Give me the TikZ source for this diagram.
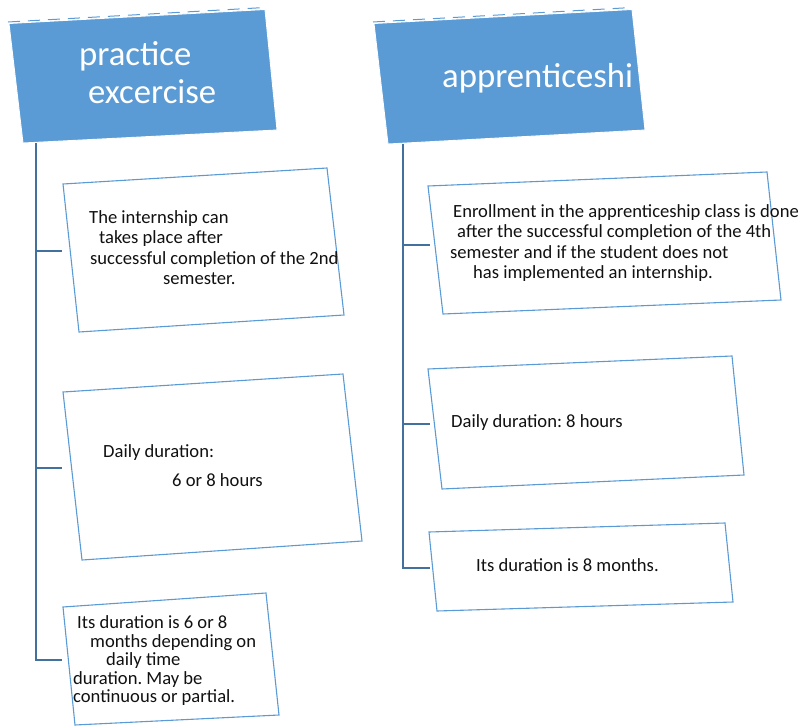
\documentclass[tikz,border=0pt]{standalone}
\usepackage{fontspec}
\setmainfont{Carlito}
\begin{document}
\frenchspacing
\begin{tikzpicture}[x=1pt,y=-1pt,
  headfill/.style={fill=hdblue,draw=white,line width=0.9pt},
  headedge/.style={draw=hdblue,line width=1pt,dash pattern=on 12pt off 8pt},
  infobox/.style={draw=boxblue,line width=1.1pt,fill=white},
  link/.style={draw=linkblue,line width=2pt},
  headtxt/.style={text=white,inner sep=0pt,anchor=base west,font=\fontsize{34.7}{38}\selectfont},
  bodytxt/.style={text=txtgray,inner sep=0pt,anchor=base west,font=\fontsize{18.6}{20.6}\selectfont}]
\definecolor{hdblue}{HTML}{5B9BD5}
\definecolor{boxblue}{HTML}{5B9BD5}
\definecolor{linkblue}{HTML}{41719C}
\definecolor{txtgray}{HTML}{111111}
\useasboundingbox (0,0) rectangle (804,726);

% ---------- left column: practice exercise ----------
\draw[headedge] (8,22) -- (265,7.5);
\draw[headfill] (9,23.5) -- (265,9.5) -- (277,130) -- (23,143) -- cycle;
\node[headtxt] (hl1) at (79,65) {practice};
\node[headtxt] (hl2) at (88,103) {excercise};

\coordinate (ltop) at (36,143);
\coordinate (lbot) at (36,661);
\coordinate (lj1) at (36,251);
\coordinate (le1) at (62,251);
\coordinate (lj2) at (36,468);
\coordinate (le2) at (62,468);
\coordinate (lj3) at (36,660);
\coordinate (le3) at (62,660);
\draw[link] (ltop) -- (lbot);
\draw[link] (lj1) -- (le1);
\draw[link] (lj2) -- (le2);
\draw[link] (lj3) -- (le3);

\draw[infobox] (63,184) -- (327,168) -- (344,315) -- (79,332) -- cycle;
\node[bodytxt] (a1) at (89,223) {The internship can};
\node[bodytxt] (a2) at (99,243) {takes place after};
\node[bodytxt] (a3) at (90,264) {successful completion of the 2nd};
\node[bodytxt] (a4) at (163,284) {semester.};

\draw[infobox] (63,392) -- (343,374) -- (362,541) -- (82,560) -- cycle;
\node[bodytxt] (b1) at (103,457) {Daily duration:};
\node[bodytxt] (b2) at (172,486) {6 or 8 hours};

\draw[infobox] (63,607) -- (266,593) -- (279,715) -- (75,725) -- cycle;
\node[bodytxt] (c1) at (77,628) {Its duration is 6 or 8};
\node[bodytxt] (c2) at (90,647) {months depending on};
\node[bodytxt] (c3) at (106,665) {daily time};
\node[bodytxt] (c4) at (73,684) {duration. May be};
\node[bodytxt] (c5) at (73,702) {continuous or partial.};

% ---------- right column: apprenticeship ----------
\draw[headedge] (373,22) -- (632,7.5);
\draw[headfill] (374,23.5) -- (632,9.5) -- (645,130) -- (388,144) -- cycle;
\node[headtxt] (hr1) at (442,87) {apprenticeshi};

\coordinate (rtop) at (403,144);
\coordinate (rbot) at (403,569);
\coordinate (rj1) at (403,245);
\coordinate (re1) at (430,245);
\coordinate (rj2) at (403,424);
\coordinate (re2) at (430,424);
\coordinate (rj3) at (403,568);
\coordinate (re3) at (430,568);
\draw[link] (rtop) -- (rbot);
\draw[link] (rj1) -- (re1);
\draw[link] (rj2) -- (re2);
\draw[link] (rj3) -- (re3);

\draw[infobox] (428,186) -- (767,172) -- (781,300) -- (443,314) -- cycle;
\node[bodytxt] (d1) at (453,217) {Enrollment in the apprenticeship class is done};
\node[bodytxt] (d2) at (457,237) {after the successful completion of the 4th};
\node[bodytxt] (d3) at (450,258) {semester and if the student does not};
\node[bodytxt] (d4) at (473,278) {has implemented an internship.};

\draw[infobox] (428,369) -- (732,356) -- (744,475) -- (442,489) -- cycle;
\node[bodytxt] (e1) at (451,427) {Daily duration: 8 hours};

\draw[infobox] (429,532) -- (725,523) -- (733,602) -- (437,611) -- cycle;
\node[bodytxt] (f1) at (476,571) {Its duration is 8 months.};
\end{tikzpicture}
\end{document}
